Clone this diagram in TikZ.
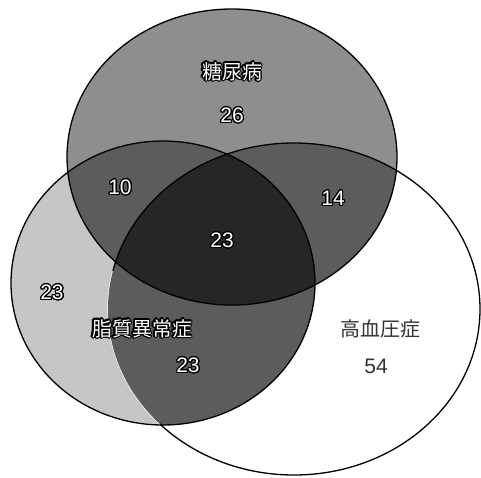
\documentclass[tikz,border=0pt]{standalone}
\usepackage{fontspec}
\setmainfont{Liberation Sans}
\newfontfamily\cjk{Noto Sans CJK JP}
\usepackage[copies]{contour}
\contourlength{1.1pt}
\contournumber{24}
\definecolor{cTop}{HTML}{8E8E8E}
\definecolor{cLeft}{HTML}{C6C6C6}
\definecolor{cPair}{HTML}{5C5C5C}
\definecolor{cAll}{HTML}{262626}
\definecolor{cTxt}{HTML}{333333}
\tikzset{
  outl/.style={line width=1.3pt, draw=black},
  wlab/.style={inner sep=0pt, font=\fontsize{21}{21}\selectfont},
  jlab/.style={inner sep=0pt, font=\cjk\fontsize{20}{20}\selectfont},
  dlab/.style={inner sep=0pt, text=cTxt, font=\fontsize{21}{21}\selectfont},
  djlab/.style={inner sep=0pt, text=cTxt, font=\cjk\fontsize{20}{20}\selectfont},
}
\newcommand\wtext[1]{\contour{black}{\textcolor{white}{#1}}}
\begin{document}
\begin{tikzpicture}[x=1pt,y=-1pt]
\useasboundingbox (0,0) rectangle (481,477);
% base fills
\fill[cLeft] (163,283) ellipse [x radius=152pt, y radius=142pt];
\fill[cTop] (232,157) ellipse [x radius=165pt, y radius=148pt];
% white line of right ellipse across left-only region
\begin{scope}
  \clip (163,283) ellipse [x radius=152pt, y radius=142pt];
  \clip (0,270) rectangle (250,477);
  \draw[white, line width=1.3pt] (294,309) ellipse [x radius=186pt, y radius=166pt];
\end{scope}
% pairwise
\begin{scope}
  \clip (232,157) ellipse [x radius=165pt, y radius=148pt];
  \fill[cPair] (163,283) ellipse [x radius=152pt, y radius=142pt];
  \fill[cPair] (294,309) ellipse [x radius=186pt, y radius=166pt];
\end{scope}
\begin{scope}
  \clip (163,283) ellipse [x radius=152pt, y radius=142pt];
  \fill[cPair] (294,309) ellipse [x radius=186pt, y radius=166pt];
\end{scope}
% triple
\begin{scope}
  \clip (232,157) ellipse [x radius=165pt, y radius=148pt];
  \clip (163,283) ellipse [x radius=152pt, y radius=142pt];
  \fill[cAll] (294,309) ellipse [x radius=186pt, y radius=166pt];
\end{scope}
% outlines
\draw[outl] (232,157) ellipse [x radius=165pt, y radius=148pt];
\draw[outl] (163,283) ellipse [x radius=152pt, y radius=142pt];
\begin{scope}
  \clip (0,0) rectangle (481,270);
  \draw[outl] (294,309) ellipse [x radius=186pt, y radius=166pt];
\end{scope}
\begin{scope}
  \clip (160,270) rectangle (481,477);
  \draw[outl] (294,309) ellipse [x radius=186pt, y radius=166pt];
\end{scope}
% labels
\node[jlab] (tl) at (232,72) {\wtext{糖尿病}};
\node[wlab] (n26) at (232,116) {\wtext{26}};
\node[wlab] (n10) at (120,188) {\wtext{10}};
\node[wlab] (n14) at (333,199) {\wtext{14}};
\node[wlab] (n23c) at (222,241) {\wtext{23}};
\node[wlab] (n23l) at (52,293) {\wtext{23}};
\node[jlab] (ll) at (142,329) {\wtext{脂質異常症}};
\node[wlab] (n23b) at (188,366) {\wtext{23}};
\node[djlab] (rl) at (380,329) {高血圧症};
\node[dlab] (n54) at (376,366) {54};
\end{tikzpicture}
\end{document}
